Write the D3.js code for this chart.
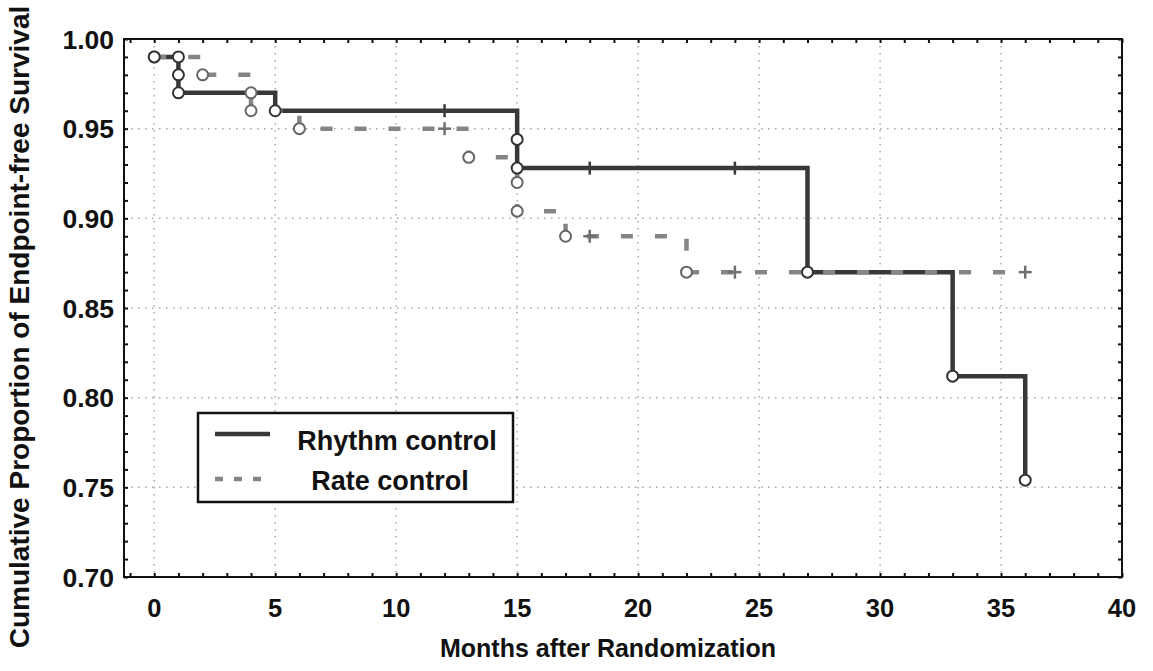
<!DOCTYPE html>
<html>
<head>
<meta charset="utf-8">
<script src="https://cdn.jsdelivr.net/npm/d3@7"></script>
<style>
  html, body { margin: 0; padding: 0; background: #fff; }
  svg { display: block; }
  text { font-family: "Liberation Sans", Arial, sans-serif; font-weight: bold; fill: #111; }
</style>
</head>
<body>
<svg id="chart" width="1153" height="671"></svg>
<script>
// ---- data ----
const xTicks = [0, 5, 10, 15, 20, 25, 30, 35, 40];
const yTicks = [0.70, 0.75, 0.80, 0.85, 0.90, 0.95, 1.00];
const seriesNames = ["Rhythm control", "Rate control"];

const rhythmTimes = [0, 1, 1, 1, 5, 15, 15, 27, 33, 36];
const rhythmSurv  = [0.99, 0.99, 0.98, 0.97, 0.96, 0.944, 0.928, 0.87, 0.812, 0.754];
const rhythmCensor = [12, 18, 24];
const rhythmEnd = 36;

const rateTimes = [0, 2, 4, 4, 6, 13, 15, 15, 17, 22];
const rateSurv  = [0.99, 0.98, 0.97, 0.96, 0.95, 0.934, 0.92, 0.904, 0.89, 0.87];
const rateCensor = [12, 18, 24, 36];
const rateEnd = 36;

// ---- layout ----
const svg = d3.select("#chart");
const L = 124, R = 1122, T = 39, B = 577;
const x = d3.scaleLinear().domain([-1.25, 40]).range([L, R]);
const y = d3.scaleLinear().domain([0.70, 1.00]).range([B, T]);

// grid
const grid = svg.append("g");
xTicks.filter(d => d > -1.25 && d < 40).forEach(d => {
  grid.append("line").attr("x1", x(d)).attr("x2", x(d)).attr("y1", T).attr("y2", B)
    .attr("stroke", "#a8a8a8").attr("stroke-width", 1.5).attr("stroke-dasharray", "1.5,5.5");
});
yTicks.filter(d => d > 0.70 && d < 1.0).forEach(d => {
  grid.append("line").attr("x1", L).attr("x2", R).attr("y1", y(d)).attr("y2", y(d))
    .attr("stroke", "#a8a8a8").attr("stroke-width", 1.5).attr("stroke-dasharray", "1.5,5.5");
});

// axes with inward ticks
const minorX = d3.range(-1, 41, 1);
const minorY = d3.range(70, 101, 1).map(v => v / 100);
const axB = svg.append("g").attr("transform", `translate(0,${B})`)
  .call(d3.axisBottom(x).tickValues(minorX).tickSizeInner(-4).tickSizeOuter(0).tickFormat(""));
const axT = svg.append("g").attr("transform", `translate(0,${T})`)
  .call(d3.axisTop(x).tickValues(minorX).tickSizeInner(-4).tickSizeOuter(0).tickFormat(""));
const axL = svg.append("g").attr("transform", `translate(${L},0)`)
  .call(d3.axisLeft(y).tickValues(minorY).tickSizeInner(-4).tickSizeOuter(0).tickFormat(""));
const axRt = svg.append("g").attr("transform", `translate(${R},0)`)
  .call(d3.axisRight(y).tickValues(minorY).tickSizeInner(-4).tickSizeOuter(0).tickFormat(""));
[axB, axT, axL, axRt].forEach(g => {
  g.select(".domain").remove();
  g.selectAll(".tick line").attr("stroke", "#111").attr("stroke-width", 2);
});

// frame
svg.append("rect").attr("x", L).attr("y", T).attr("width", R - L).attr("height", B - T)
  .attr("fill", "none").attr("stroke", "#111").attr("stroke-width", 2);

// tick labels
svg.append("g").selectAll("text").data(xTicks).join("text")
  .attr("x", d => x(d)).attr("y", 617).attr("text-anchor", "middle")
  .attr("font-size", 25.5).text(d => d);
svg.append("g").selectAll("text").data(yTicks).join("text")
  .attr("x", 114).attr("y", d => y(d) + 9.5).attr("text-anchor", "end")
  .attr("font-size", 26.5).text(d => d.toFixed(2));

// axis titles
svg.append("text").attr("x", 608).attr("y", 657).attr("text-anchor", "middle")
  .attr("font-size", 25).text("Months after Randomization");
svg.append("text").attr("transform", "translate(29,327) rotate(-90)")
  .attr("text-anchor", "middle").attr("font-size", 28)
  .text("Cumulative Proportion of Endpoint-free Survival");

// step helpers
function stepPath(times, surv, end) {
  const pts = [[times[0], surv[0]]];
  for (let i = 1; i < times.length; i++) {
    pts.push([times[i], surv[i - 1]]);
    pts.push([times[i], surv[i]]);
  }
  if (end > times[times.length - 1]) pts.push([end, surv[surv.length - 1]]);
  return d3.line().x(d => x(d[0])).y(d => y(d[1]))(pts);
}
function levelAt(times, surv, t) {
  let v = surv[0];
  for (let i = 0; i < times.length; i++) if (times[i] <= t) v = surv[i];
  return v;
}

const rhythmColor = "#383838", rateColor = "#858585";

// lines
svg.append("path").attr("d", stepPath(rhythmTimes, rhythmSurv, rhythmEnd))
  .attr("fill", "none").attr("stroke", rhythmColor).attr("stroke-width", 4.5);
svg.append("path").attr("d", stepPath(rateTimes, rateSurv, rateEnd))
  .attr("fill", "none").attr("stroke", rateColor).attr("stroke-width", 4.5)
  .attr("stroke-dasharray", "12,22");

// censor marks (+)
function plus(g, t, v, color) {
  const cx = x(t), cy = y(v), h = 6.5;
  g.append("line").attr("x1", cx - h).attr("x2", cx + h).attr("y1", cy).attr("y2", cy)
    .attr("stroke", color).attr("stroke-width", 2.5);
  g.append("line").attr("x1", cx).attr("x2", cx).attr("y1", cy - h).attr("y2", cy + h)
    .attr("stroke", color).attr("stroke-width", 2.5);
}
const marks = svg.append("g");
rhythmCensor.forEach(t => plus(marks, t, levelAt(rhythmTimes, rhythmSurv, t), "#3a3a3a"));
rateCensor.forEach(t => plus(marks, t, levelAt(rateTimes, rateSurv, t), "#707070"));

// event circles
marks.selectAll("circle.rate").data(rateTimes.map((t, i) => [t, rateSurv[i]])).join("circle")
  .attr("class", "rate").attr("cx", d => x(d[0])).attr("cy", d => y(d[1])).attr("r", 5.5)
  .attr("fill", "#fff").attr("stroke", "#666").attr("stroke-width", 2);
marks.selectAll("circle.rhythm").data(rhythmTimes.map((t, i) => [t, rhythmSurv[i]])).join("circle")
  .attr("class", "rhythm").attr("cx", d => x(d[0])).attr("cy", d => y(d[1])).attr("r", 5.5)
  .attr("fill", "#fff").attr("stroke", "#333").attr("stroke-width", 2);

// legend
const lg = svg.append("g");
lg.append("rect").attr("x", 198).attr("y", 413).attr("width", 315).attr("height", 89)
  .attr("fill", "#fff").attr("stroke", "#111").attr("stroke-width", 2.5);
lg.append("line").attr("x1", 215).attr("x2", 270).attr("y1", 434).attr("y2", 434)
  .attr("stroke", rhythmColor).attr("stroke-width", 4.5);
lg.append("line").attr("x1", 215).attr("x2", 264).attr("y1", 479).attr("y2", 479)
  .attr("stroke", rateColor).attr("stroke-width", 4.5).attr("stroke-dasharray", "8,11");
lg.append("text").attr("x", 397).attr("y", 450).attr("text-anchor", "middle")
  .attr("font-size", 27).text(seriesNames[0]);
lg.append("text").attr("x", 390).attr("y", 490).attr("text-anchor", "middle")
  .attr("font-size", 27).text(seriesNames[1]);
</script>
</body>
</html>
